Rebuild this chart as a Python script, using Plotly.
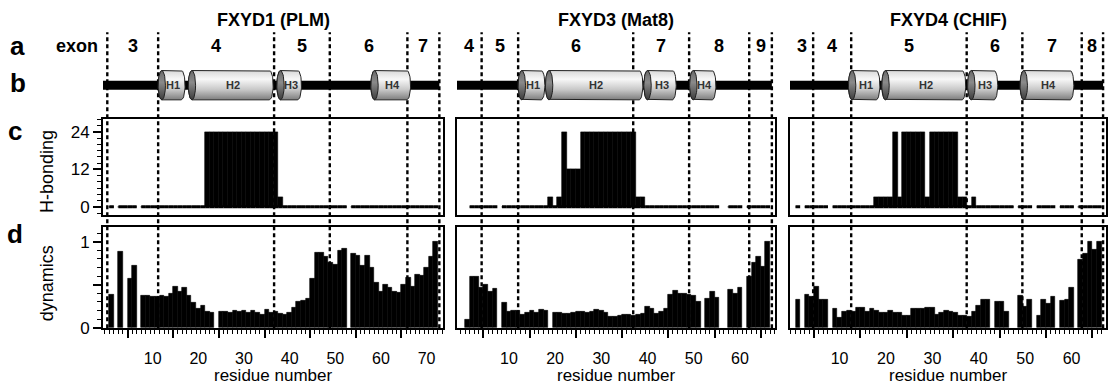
import numpy as np
import plotly.graph_objects as go

# ---------------- data ----------------
proteins = ["FXYD1 (PLM)", "FXYD3 (Mat8)", "FXYD4 (CHIF)"]

plm_dynamics = [0.38, None, 0.88, None, 0.57, 0.72, None, 0.375, 0.37, 0.36,
                0.36, 0.37, 0.36, 0.40, 0.48, 0.42, 0.47, 0.37, 0.29, 0.22,
                0.26, 0.19, 0.17, None, 0.19, 0.19, 0.17, 0.20, 0.18, 0.20,
                0.17, 0.20, 0.17, 0.155, 0.21, 0.17, 0.18, 0.16, 0.15, 0.17,
                0.23, 0.30, 0.31, 0.34, 0.57, 0.87, 0.87, 0.82, 0.75, 0.73,
                0.90, 0.92, None, 0.86, 0.84, 0.72, 0.84, 0.70, 0.52, 0.42,
                0.50, 0.46, 0.42, 0.41, 0.50, 0.58, 0.48, 0.61, 0.60, 0.70,
                0.82, 1.00]
plm_hbonding = ([0, None] + [0] * 4 + [None] + [0] * 14 + [24] * 16 + [3]
                + [0] * 14 + [None] + [0] * 19)

mat8_dynamics = [0.09, 0.59, 0.59, 0.47, 0.50, 0.42, 0.45, None, 0.29, 0.19,
                 0.20, 0.20, 0.155, 0.17, 0.20, 0.17, 0.21, 0.20, None, 0.17,
                 0.17, 0.16, 0.16, 0.17, 0.18, 0.18, 0.17, 0.19, 0.21, 0.20,
                 0.17, 0.13, 0.13, 0.14, 0.15, 0.15, 0.14, 0.15, 0.16, 0.24,
                 0.22, 0.16, 0.18, 0.22, 0.38, 0.43, 0.40, 0.40, 0.38, 0.37,
                 0.30, None, 0.34, 0.42, 0.35, None, None, 0.44, 0.40, 0.46,
                 None, 0.59, 0.76, 0.82, 0.71, 1.00]
mat8_hbonding = ([None] + [0] * 6 + [None] + [0] * 10 + [3, 0, 3, 24]
                 + [12] * 3 + [24] * 12 + [3] * 2 + [0] * 16 + [None] * 2
                 + [0] * 3 + [None] + [0] * 5)

chif_dynamics = [0.32, None, 0.38, 0.36, 0.48, 0.33, 0.33, None, 0.22, 0.11,
                 0.19, 0.20, 0.18, 0.23, 0.23, 0.19, 0.22, 0.20, 0.17, 0.17,
                 0.20, 0.17, 0.17, 0.14, 0.14, 0.22, 0.22, 0.22, 0.23, 0.23,
                 0.155, 0.17, 0.20, 0.18, 0.17, 0.14, 0.14, 0.13, 0.19, 0.25,
                 0.32, 0.33, None, 0.30, 0.30, 0.18, None, None, 0.37, 0.24,
                 0.33, None, 0.14, 0.32, 0.28, 0.36, None, 0.31, 0.33, 0.46,
                 None, 0.79, 0.86, 1.00, 0.91, 1.00]
chif_hbonding = ([0, None] + [0] * 5 + [None] + [0] * 9 + [3] * 4 + [24, 3]
                 + [24] * 5 + [3] + [24] * 6 + [3] * 2 + [0, 3] + [0] * 8
                 + [None] + [0] * 3 + [None] + [0] * 4 + [None] + [0] * 3
                 + [None] + [0] * 5)

# exon boundaries (residue units) and exon numbers of the segments they close
plm_exon_bounds = [0.06, 11.2, 36.6, 48.8, 65.8, 72.8]
mat8_exon_bounds = [4.1, 12.0, 36.9, 49.0, 62.0, 66.9]
chif_exon_bounds = [4.3, 12.5, 37.4, 49.4, 62.2, 66.8]
plm_exon_labels = ["", "3", "4", "5", "6", "7"]
mat8_exon_labels = ["4", "5", "6", "7", "8", "9"]
chif_exon_labels = ["3", "4", "5", "6", "7", "8"]

# helices (start, end residue)
helix_names = ["H1", "H2", "H3", "H4"]
plm_helices = [(11.2, 17.1), (17.8, 36.4), (37.2, 42.6), (57.8, 66.5)]
mat8_helices = [(12.0, 17.8), (17.9, 39.0), (39.2, 46.2), (49.1, 54.8)]
chif_helices = [(11.9, 18.7), (19.1, 37.2), (37.6, 44.1), (48.9, 60.5)]

hb_ticks = [0, 12, 24]
dyn_ticks = [0, 0.5, 1]
dyn_ticktext = ["0", "", "1"]

panels = [
    dict(name=proteins[0], dyn=plm_dynamics, hb=plm_hbonding,
         bounds=plm_exon_bounds, exons=plm_exon_labels, helices=plm_helices),
    dict(name=proteins[1], dyn=mat8_dynamics, hb=mat8_hbonding,
         bounds=mat8_exon_bounds, exons=mat8_exon_labels, helices=mat8_helices),
    dict(name=proteins[2], dyn=chif_dynamics, hb=chif_hbonding,
         bounds=chif_exon_bounds, exons=chif_exon_labels, helices=chif_helices),
]

# ---------------- layout geometry ----------------
W, H = 1110, 392
FONT = "Liberation Sans, Arial, Helvetica, sans-serif"
panel_px = [(103, 443), (457, 775), (790, 1106)]
x_ranges = [[-0.88, 73.6], [-1.23, 67.58], [-0.69, 67.43]]
row_b_px = (60.2, 114.2)
row_c_px = (122, 220)
row_d_px = (232, 336)
dash_px = (33, 336)


def px(x):
    return x / W


def py(y):
    return 1 - y / H


def ax(kind, n):
    return f"{kind}axis" if n == 1 else f"{kind}axis{n}"


def ref(kind, n):
    return kind if n == 1 else f"{kind}{n}"


def text(x, y, s, size=18, xref="paper", yref="paper", xanchor="center", color="black", **kw):
    return dict(x=x, y=y, xref=xref, yref=yref, text=s, showarrow=False,
                xanchor=xanchor, yanchor="middle",
                font=dict(size=size, family=FONT, color=color), **kw)


fig = go.Figure()
layout = dict(width=W, height=H, margin=dict(l=0, r=0, t=0, b=0),
              paper_bgcolor="white", plot_bgcolor="rgba(0,0,0,0)",
              showlegend=False, bargap=0, font=dict(family=FONT, color="black"))
shapes = []
annotations = []

rx = 0.8  # half-width of cylinder ends (residue units)

for i, p in enumerate(panels):
    nb, nc, nd, nl = 1 + i, 4 + i, 7 + i, 10 + i
    dom = [px(panel_px[i][0]), px(panel_px[i][1])]
    rng = x_ranges[i]
    res = list(range(1, len(p["dyn"]) + 1))

    # ---- axes ----
    layout[ax("x", nb)] = dict(domain=dom, range=rng, visible=False, anchor=ref("y", nb))
    layout[ax("y", nb)] = dict(domain=[py(row_b_px[1]), py(row_b_px[0])], range=[-1.8, 1.8],
                               visible=False, anchor=ref("x", nb))
    frame = dict(showline=True, mirror=True, linecolor="black", linewidth=2,
                 showgrid=False, zeroline=False)
    layout[ax("x", nc)] = dict(domain=dom, range=rng, ticks="", showticklabels=False,
                               anchor=ref("y", nc), **frame)
    yc = dict(domain=[py(row_c_px[1]), py(row_c_px[0])], range=[-2.6, 28.1],
              anchor=ref("x", nc), **frame)
    if i == 0:
        yc.update(tickmode="array", tickvals=hb_ticks, ticks="outside", ticklen=8,
                  tickwidth=1.5, tickcolor="black", tickfont=dict(size=17),
                  minor=dict(tickmode="linear", tick0=0, dtick=2, ticks="outside",
                             ticklen=4, tickwidth=1.2, tickcolor="black"))
    else:
        yc.update(ticks="", showticklabels=False)
    layout[ax("y", nc)] = yc

    layout[ax("x", nd)] = dict(domain=dom, range=rng, anchor=ref("y", nd),
                               tickmode="linear", tick0=4.5, dtick=10, ticks="outside",
                               ticklen=8, tickwidth=1.5, tickcolor="black",
                               showticklabels=False,
                               minor=dict(tickmode="linear", tick0=0.5, dtick=1,
                                          ticks="outside", ticklen=4, tickwidth=1.2,
                                          tickcolor="black"),
                               **frame)
    yd = dict(domain=[py(row_d_px[1]), py(row_d_px[0])], range=[-0.008, 1.174],
              anchor=ref("x", nd), **frame)
    if i == 0:
        yd.update(tickmode="array", tickvals=dyn_ticks, ticktext=dyn_ticktext,
                  ticks="outside", ticklen=8, tickwidth=1.5, tickcolor="black",
                  tickfont=dict(size=17),
                  minor=dict(tickmode="linear", tick0=0, dtick=0.1, ticks="outside",
                             ticklen=4, tickwidth=1.2, tickcolor="black"))
    else:
        yd.update(ticks="", showticklabels=False)
    layout[ax("y", nd)] = yd

    label_vals = list(range(10, int(rng[1]) + 1, 10))
    layout[ax("x", nl)] = dict(overlaying=ref("x", nd), anchor=ref("y", nd), side="bottom",
                               range=rng, tickmode="array", tickvals=label_vals,
                               ticks="outside", ticklen=16, tickcolor="rgba(0,0,0,0)",
                               showline=False, showgrid=False, zeroline=False,
                               tickfont=dict(size=16))
    fig.add_trace(go.Scatter(x=[], y=[], xaxis=ref("x", nl), yaxis=ref("y", nd),
                             hoverinfo="skip"))

    # ---- exon boundaries (dashed) ----
    for b in p["bounds"]:
        shapes.append(dict(type="line", xref=ref("x", nc), yref="paper",
                           x0=b, x1=b, y0=py(dash_px[1]), y1=py(dash_px[0]),
                           line=dict(color="black", width=2.4, dash="4px,3px"),
                           layer="below"))
    edges = [rng[0]] + p["bounds"]
    for k, lab in enumerate(p["exons"]):
        if lab:
            annotations.append(text((edges[k] + edges[k + 1]) / 2, py(47), f"<b>{lab}</b>",
                                    xref=ref("x", nb)))

    # ---- backbone + helices ----
    fig.add_trace(go.Scatter(x=[rng[0], p["bounds"][-1]], y=[0, 0], mode="lines",
                             line=dict(color="black", width=9),
                             xaxis=ref("x", nb), yaxis=ref("y", nb), hoverinfo="skip"))
    t_right = np.linspace(np.pi / 2, -np.pi / 2, 25)
    t_left = np.linspace(-np.pi / 2, -3 * np.pi / 2, 25)
    t_full = np.linspace(0, 2 * np.pi, 49)
    for (h0, h1), hname in zip(p["helices"], helix_names):
        xs = np.concatenate([[h0 + rx], (h1 - rx) + rx * np.cos(t_right),
                             (h0 + rx) + rx * np.cos(t_left)])
        ys = np.concatenate([[1.0], np.sin(t_right), np.sin(t_left)])
        fig.add_trace(go.Scatter(x=xs, y=ys, mode="lines", fill="toself",
                                 fillgradient=dict(type="vertical",
                                                   colorscale=[[0, "#7d7d7d"], [0.35, "#c8c8c8"],
                                                               [0.7, "#f7f7f7"], [1, "#d9d9d9"]]),
                                 line=dict(color="#222", width=1),
                                 xaxis=ref("x", nb), yaxis=ref("y", nb), hoverinfo="skip"))
        cx = (h0 + rx) + rx * np.cos(t_full)
        cy = np.sin(t_full)
        fig.add_trace(go.Scatter(x=cx, y=cy, mode="lines", fill="toself",
                                 fillgradient=dict(type="vertical",
                                                   colorscale=[[0, "#3c3c3c"], [0.6, "#8a8a8a"],
                                                               [1, "#6a6a6a"]]),
                                 line=dict(color="#222", width=1),
                                 xaxis=ref("x", nb), yaxis=ref("y", nb), hoverinfo="skip"))
        annotations.append(text((h0 + rx + h1) / 2, 0, f"<b>{hname}</b>", size=11,
                                xref=ref("x", nb), yref=ref("y", nb), color="#333"))

    # ---- H-bonding ----
    fig.add_trace(go.Bar(x=res, y=p["hb"], width=1.0, xaxis=ref("x", nc), yaxis=ref("y", nc),
                         marker=dict(color="black", line=dict(color="black", width=0.6)),
                         hoverinfo="skip"))
    bx, by = [], []
    for n, v in zip(res, p["hb"]):
        if v is not None:
            bx += [n - 0.5, n + 0.5, None]
            by += [0, 0, None]
    fig.add_trace(go.Scatter(x=bx, y=by, mode="lines", line=dict(color="black", width=3),
                             xaxis=ref("x", nc), yaxis=ref("y", nc), hoverinfo="skip"))

    # ---- dynamics ----
    fig.add_trace(go.Bar(x=res, y=p["dyn"], width=1.0, xaxis=ref("x", nd), yaxis=ref("y", nd),
                         marker=dict(color="black", line=dict(color="black", width=0.6)),
                         hoverinfo="skip"))

    # ---- text ----
    xc = (panel_px[i][0] + panel_px[i][1]) / 2
    annotations.append(text(px(xc), py(20), f"<b>{p['name']}</b>"))
    annotations.append(text(px(xc), py(384), "residue number", size=17))

annotations += [
    text(px(100), py(47), "<b>exon</b>", xanchor="right"),
    text(px(47), py(176), "H-bonding", textangle=-90),
    text(px(47), py(290), "dynamics", textangle=-90),
]
for letter, (lx, ly) in zip("abcd", [(17.5, 47), (17.5, 85), (15, 134), (15, 239)]):
    annotations.append(text(px(lx), py(ly), f"<b>{letter}</b>", size=26))

layout["shapes"] = shapes
layout["annotations"] = annotations
fig.update_layout(**layout)
fig.write_html("out.html", config={"displayModeBar": False},
               post_script="document.body.style.margin='0px';")
